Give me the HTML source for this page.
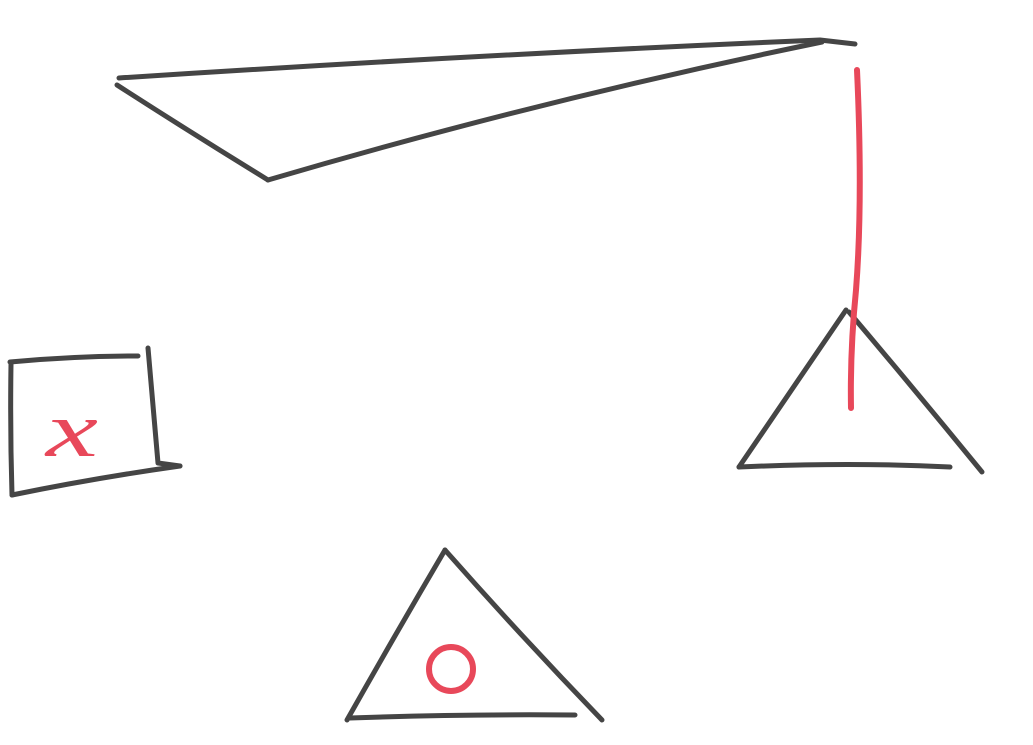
<!DOCTYPE html>
<html><head><meta charset="utf-8"><style>
html,body{margin:0;padding:0;background:#fff;width:1033px;height:745px;overflow:hidden}
svg{display:block}
</style></head><body>
<svg width="1033" height="745" viewBox="0 0 1033 745">
<g fill="none" stroke="#454545" stroke-width="5" stroke-linecap="round" stroke-linejoin="round">
  <g>
    <path d="M119 78 Q470 55 820 40 L855 44"/>
    <path d="M117 85 Q190 132 268 180"/>
    <path d="M268 180 Q540 100 822 42"/>
  </g>
  <g>
    <path d="M846 310 L739 467"/>
    <path d="M739 467 Q850 462 950 467"/>
    <path d="M849 312 Q915 390 982 472"/>
  </g>
  <g>
    <path d="M10 362 Q75 356 138 356"/>
    <path d="M11 364 Q10 430 12 495"/>
    <path d="M148 348 Q153 405 158 463 L180 466"/>
    <path d="M12 495 Q95 478 180 466"/>
  </g>
  <g>
    <path d="M445 550 Q395 635 347 720"/>
    <path d="M445 550 Q520 635 602 720"/>
    <path d="M350 718 Q460 714 575 715"/>
  </g>
</g>
<g fill="none" stroke="#e8485a" stroke-width="6" stroke-linecap="round">
  <path d="M857 70 Q863 200 856 290 Q850 350 851 408"/>
  <circle cx="451" cy="669" r="22"/>
</g>
<text x="0" y="0" transform="translate(46,456) scale(1.5,1)" font-family="Liberation Serif, serif" font-style="italic" font-size="78" fill="#e8485a">x</text>
</svg>
</body></html>
